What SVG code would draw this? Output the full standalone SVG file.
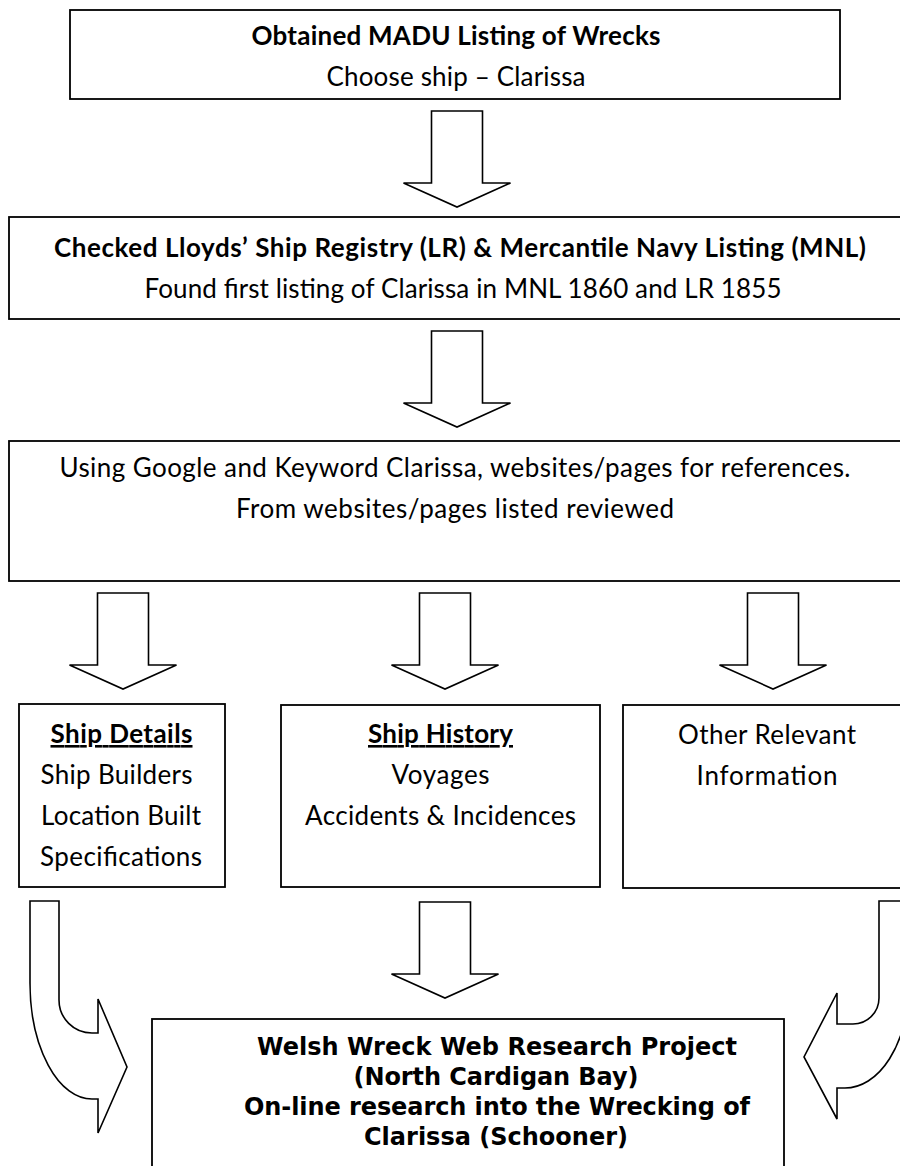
<svg xmlns="http://www.w3.org/2000/svg" width="900" height="1166" viewBox="0 0 900 1166">
<style>
.box{fill:#fff;stroke:#000;stroke-width:1.8}
.arr{fill:#fff;stroke:#000;stroke-width:1.6;stroke-linejoin:miter}
.c{font-family:Lato,"Liberation Sans",sans-serif;font-size:26px;fill:#000;text-anchor:middle}
.b{font-weight:bold}
.u{text-decoration:underline}
.v{font-family:"DejaVu Sans",Verdana,sans-serif;font-weight:bold;font-size:24px;fill:#000;text-anchor:middle}
</style>
<rect width="900" height="1166" fill="#fff"/>
<g id="connectors">
<path class="arr" d="M431.5 111 H482.5 V183 H510.5 L457 207 L403.5 183 H431.5 Z"/>
<path class="arr" d="M431.5 331 H482.5 V403 H510.5 L457 427 L403.5 403 H431.5 Z"/>
<path class="arr" d="M97.5 593 H148.5 V665 H176.5 L123 689 L69.5 665 H97.5 Z"/>
<path class="arr" d="M419.5 593 H470.5 V665 H498.5 L445 689 L391.5 665 H419.5 Z"/>
<path class="arr" d="M747.5 593 H798.5 V665 H826.5 L773 689 L719.5 665 H747.5 Z"/>
<path class="arr" d="M419.5 902 H470.5 V974 H498.5 L445 998 L391.5 974 H419.5 Z"/>
<path class="arr" d="M30 901 L59 901 L59 1000 A33 33 0 0 0 92 1033 L98 1033 L98 999 L127 1067 L98 1133 L98 1099 L92 1099 A62 116 0 0 1 30 983 Z"/>
<path class="arr" d="M879 901 L879 998 A26 26 0 0 1 853 1024 L837 1024 L837 993 L804 1057 L837 1119 L837 1088 L845 1088 A63 100 0 0 0 908 988 L908 901 Z"/>
</g>
<g id="n1">
<rect class="box" x="70" y="10" width="770" height="89"/>
<text class="c b" x="456" y="45" textLength="409">Obtained MADU Listing of Wrecks</text>
<text class="c" x="456" y="86" textLength="259">Choose ship – Clarissa</text>
</g>
<g id="n2">
<rect class="box" x="9" y="217" width="910" height="102"/>
<text class="c b" x="460" y="257" textLength="812">Checked Lloyds’ Ship Registry (LR) &amp; Mercantile Navy Listing (MNL)</text>
<text class="c" x="463" y="298" textLength="637">Found first listing of Clarissa in MNL 1860 and LR 1855</text>
</g>
<g id="n3">
<rect class="box" x="9" y="441" width="910" height="140"/>
<text class="c" x="455" y="477" textLength="791">Using Google and Keyword Clarissa, websites/pages for references.</text>
<text class="c" x="455" y="518" textLength="438">From websites/pages listed reviewed</text>
</g>
<g id="n4">
<rect class="box" x="19" y="704" width="206" height="183"/>
<text class="c b u" x="121.5" y="743" textLength="142">Ship Details</text>
<text class="c" x="116.5" y="784" textLength="152">Ship Builders</text>
<text class="c" x="121" y="825" textLength="160">Location Built</text>
<text class="c" x="121" y="866" textLength="162">Specifications</text>
</g>
<g id="n5">
<rect class="box" x="281" y="705" width="319" height="182"/>
<text class="c b u" x="440.5" y="743" textLength="145">Ship History</text>
<text class="c" x="440.5" y="784" textLength="98">Voyages</text>
<text class="c" x="440.5" y="825" textLength="271">Accidents &amp; Incidences</text>
</g>
<g id="n6">
<rect class="box" x="623" y="705" width="300" height="183"/>
<text class="c" x="767" y="744" textLength="178">Other Relevant</text>
<text class="c" x="767" y="785" textLength="141">Information</text>
</g>
<g id="n7">
<rect class="box" x="152" y="1019" width="632" height="160"/>
<text class="v" x="497" y="1055" textLength="480">Welsh Wreck Web Research Project</text>
<text class="v" x="496" y="1085" textLength="285">(North Cardigan Bay)</text>
<text class="v" x="497" y="1115" textLength="506">On-line research into the Wrecking of</text>
<text class="v" x="496" y="1145" textLength="264">Clarissa (Schooner)</text>
</g>
</svg>
